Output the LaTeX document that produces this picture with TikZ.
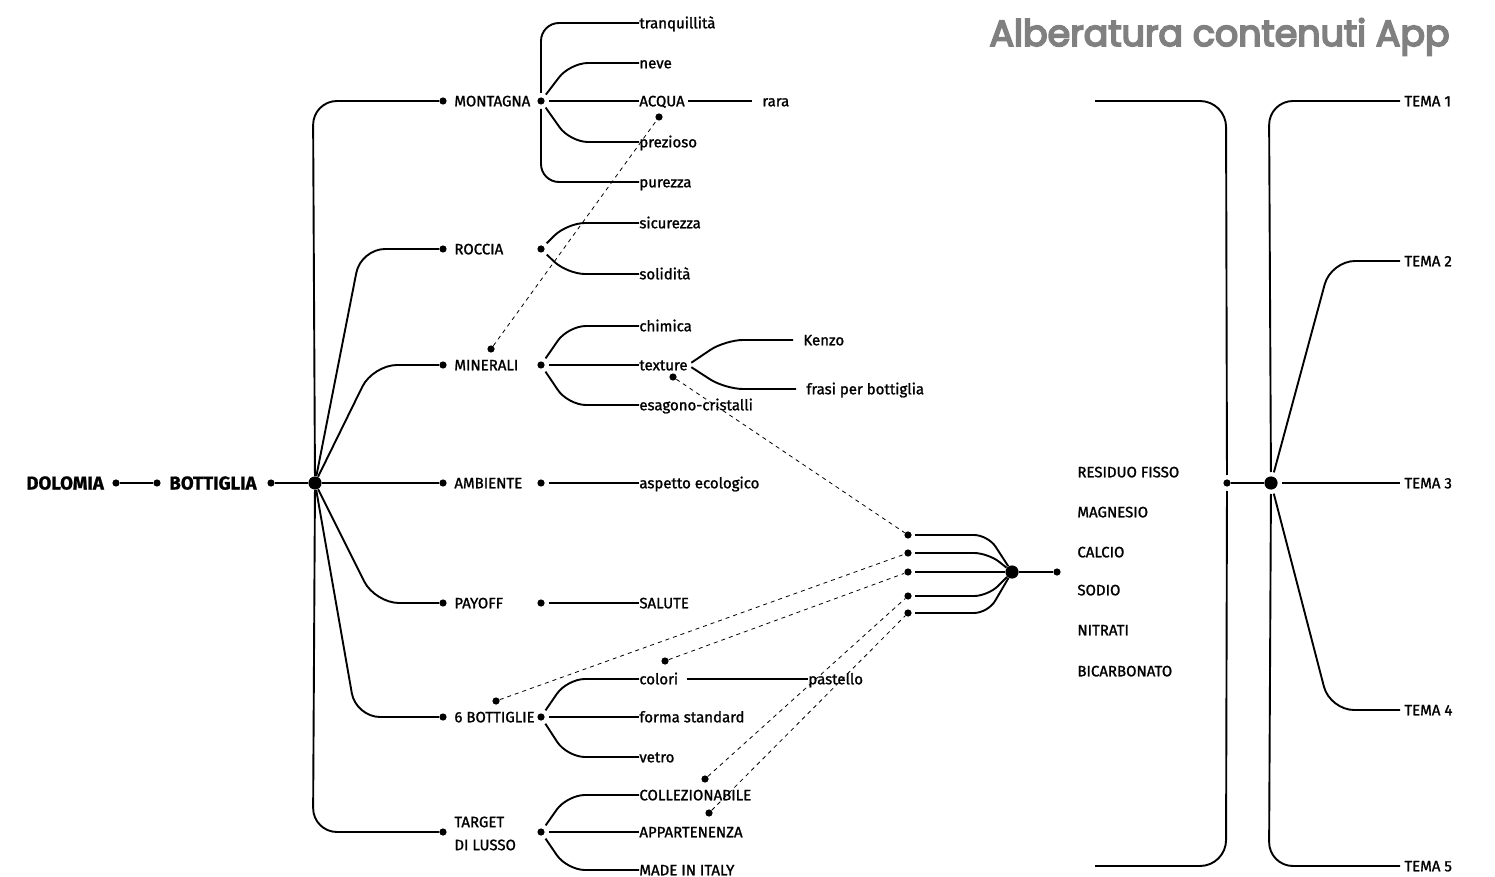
\documentclass[tikz,border=0pt]{standalone}
\usepackage{fontspec}
\setmainfont{Fira Sans}
\newfontfamily\titlefont{Poppins}
\colorlet{titlegrey}{black!50}
\newcommand{\lblfont}{\fontsize{7.5}{11.5}\selectfont}
\tikzset{
  dot/.style={circle, fill=black, inner sep=0pt, minimum size=3.6pt},
  bigdot/.style={circle, fill=black, inner sep=0pt, minimum size=6.6pt},
  heavier/.style={execute at begin node={\special{pdf:literal direct #1 2 Tr}},
    execute at end node={\special{pdf:literal direct 0 Tr}}},
  lbl/.style={anchor=west, inner sep=0pt, text height=5.3pt, text depth=0pt, font=\lblfont,
    heavier={0 G 0.1 w}},
  rootlbl/.style={lbl, text height=6.5pt, font=\fontsize{9.3}{11}\selectfont\bfseries},
  link/.style={line width=0.95pt, rounded corners=12pt},
  sublink/.style={line width=0.95pt, rounded corners=9pt, shorten <=2pt},
  hint/.style={line width=0.4pt, dash pattern=on 2pt off 2pt},
}

\begin{document}
\begin{tikzpicture}[x=0.5pt, y=-0.5pt]
  \useasboundingbox (0,0) rectangle (1495,877);
  \node[anchor=base east, inner sep=0pt, text=titlegrey, heavier={0.5 G 0.9 w},
        font=\titlefont\fontsize{18.2}{20}\selectfont] (title) at (1450,46) {Alberatura contenuti App};

  % root
  \node[rootlbl] (dolomia) at (26,483) {DOLOMIA};
  \node[dot] (dolomia-r) at (116,483) {};
  \node[dot] (bottiglia-l) at (157,483) {};
  \node[rootlbl] (bottiglia) at (169,483) {BOTTIGLIA};
  \node[dot] (bottiglia-r) at (271,483) {};
  \node[bigdot] (hub) at (315,483) {};
  \draw[link] (dolomia-r) -- (bottiglia-l);
  \draw[link] (bottiglia-r) -- (hub);

  % first level
  \foreach \n/\y/\cx/\t in {montagna/101/313/MONTAGNA, roccia/249/361/ROCCIA,
      minerali/365/373/MINERALI, ambiente/483/380/AMBIENTE, payoff/603/375/PAYOFF,
      bottiglie/717/356/6 BOTTIGLIE}{
    \node[dot] (\n-l) at (443,\y) {};
    \node[dot] (\n-r) at (541,\y) {};
    \node[lbl] (\n) at (454,\y) {\t};
    \draw[link] (hub) -- (\cx,\y) -- (\n-l);
  }
  \node[dot] (target-l) at (443,832) {};
  \node[dot] (target-r) at (541,832) {};
  \node[lbl, align=left, text height={}, text depth={}] (target) at (454,833.5) {TARGET\\DI LUSSO};
  \draw[link] (hub) -- (313,832) -- (target-l);

  % second level
  \foreach \p/\n/\y/\cx/\t in {
      montagna/mo1/23/541/tranquillità, montagna/mo2/63/570/neve, montagna/acqua/101/590/ACQUA,
      montagna/mo4/142/570/prezioso, montagna/mo5/182/541/purezza,
      roccia/ro1/223/567/sicurezza, roccia/ro2/274/567/solidità,
      minerali/mi1/326/568/chimica, minerali/texture/365/590/texture, minerali/mi3/405/568/esagono-cristalli,
      ambiente/am1/483/590/aspetto ecologico, payoff/pa1/603/590/SALUTE,
      bottiglie/colori/679/567/colori, bottiglie/bo2/717/590/forma standard, bottiglie/bo3/757/567/vetro,
      target/ta1/795/567/COLLEZIONABILE, target/ta2/832/590/APPARTENENZA, target/ta3/870/567/MADE IN ITALY}{
    \node[lbl] (\n) at (639,\y) {\t};
    \draw[sublink] (\p-r) -- (\cx,\y) -- (\n.west);
  }

  % third level
  \node[lbl] (rara) at (762,101) {rara};
  \node[lbl] (kenzo) at (803,340) {Kenzo};
  \node[lbl] (frasi) at (806,389) {frasi per bottiglia};
  \node[lbl] (pastello) at (808,679) {pastello};
  \draw[link] ([xshift=1.5pt]acqua.east) -- ([xshift=-5pt]rara.west);
  \draw[sublink] (texture.east) -- (725,340) -- ([xshift=-5pt]kenzo.west);
  \draw[sublink] (texture.east) -- (725,389) -- ([xshift=-5pt]frasi.west);
  \draw[link] ([xshift=4pt]colori.east) -- (pastello.west);

  % minerali in acqua
  \foreach \i/\y in {1/535, 2/553, 3/572, 4/596, 5/613}{
    \node[dot] (s\i) at (908,\y) {};
  }
  \node[bigdot] (sum) at (1012,572) {};
  \node[dot] (out) at (1057,572) {};
  \foreach \i/\y in {1/535, 2/553, 3/572, 4/596, 5/613}{
    \draw[link, rounded corners=7pt, shorten <=1.5pt] (s\i) -- (988,\y) -- (sum);
  }
  \draw[link] (sum) -- (out);

  % dashed hints
  \node[dot] (h-mi) at (491,349) {};
  \node[dot] (h-acq) at (659,117) {};
  \draw[hint] (h-mi) -- (h-acq);
  \foreach \n/\x/\y/\s in {tex/673/377/1, bot/496/701/2, col/665/661/3, coll/705/779/4, app/709/813/5}{
    \node[dot] (h-\n) at (\x,\y) {};
    \draw[hint] (h-\n) -- (s\s);
  }

  % list
  \foreach \n/\y/\t in {rf/472/RESIDUO FISSO, mg/512/MAGNESIO, ca/552/CALCIO,
      so/590/SODIO, ni/630/NITRATI, bi/671/BICARBONATO}{
    \node[lbl] (\n) at (1077,\y) {\t};
  }

  % bracket and themes
  \coordinate (br-top) at (1095,101);
  \coordinate (br-bot) at (1095,866);
  \node[dot] (join) at (1227,483) {};
  \node[bigdot] (themes) at (1271,483) {};
  \draw[link, rounded corners=13pt, shorten >=2pt] (br-top) -- (1226,101) -- (join);
  \draw[link, rounded corners=13pt, shorten >=2pt] (br-bot) -- (1226,866) -- (join);
  \draw[link] (join) -- (themes);
  \foreach \n/\y/\cx in {1/101/1269, 2/261/1331, 3/483/1330, 4/710/1330, 5/866/1269}{
    \node[lbl] (tema\n) at (1404,\y) {TEMA \n};
    \draw[link, shorten <=2pt, shorten >=2pt] (themes) -- (\cx,\y) -- (tema\n.west);
  }
\end{tikzpicture}
\end{document}
